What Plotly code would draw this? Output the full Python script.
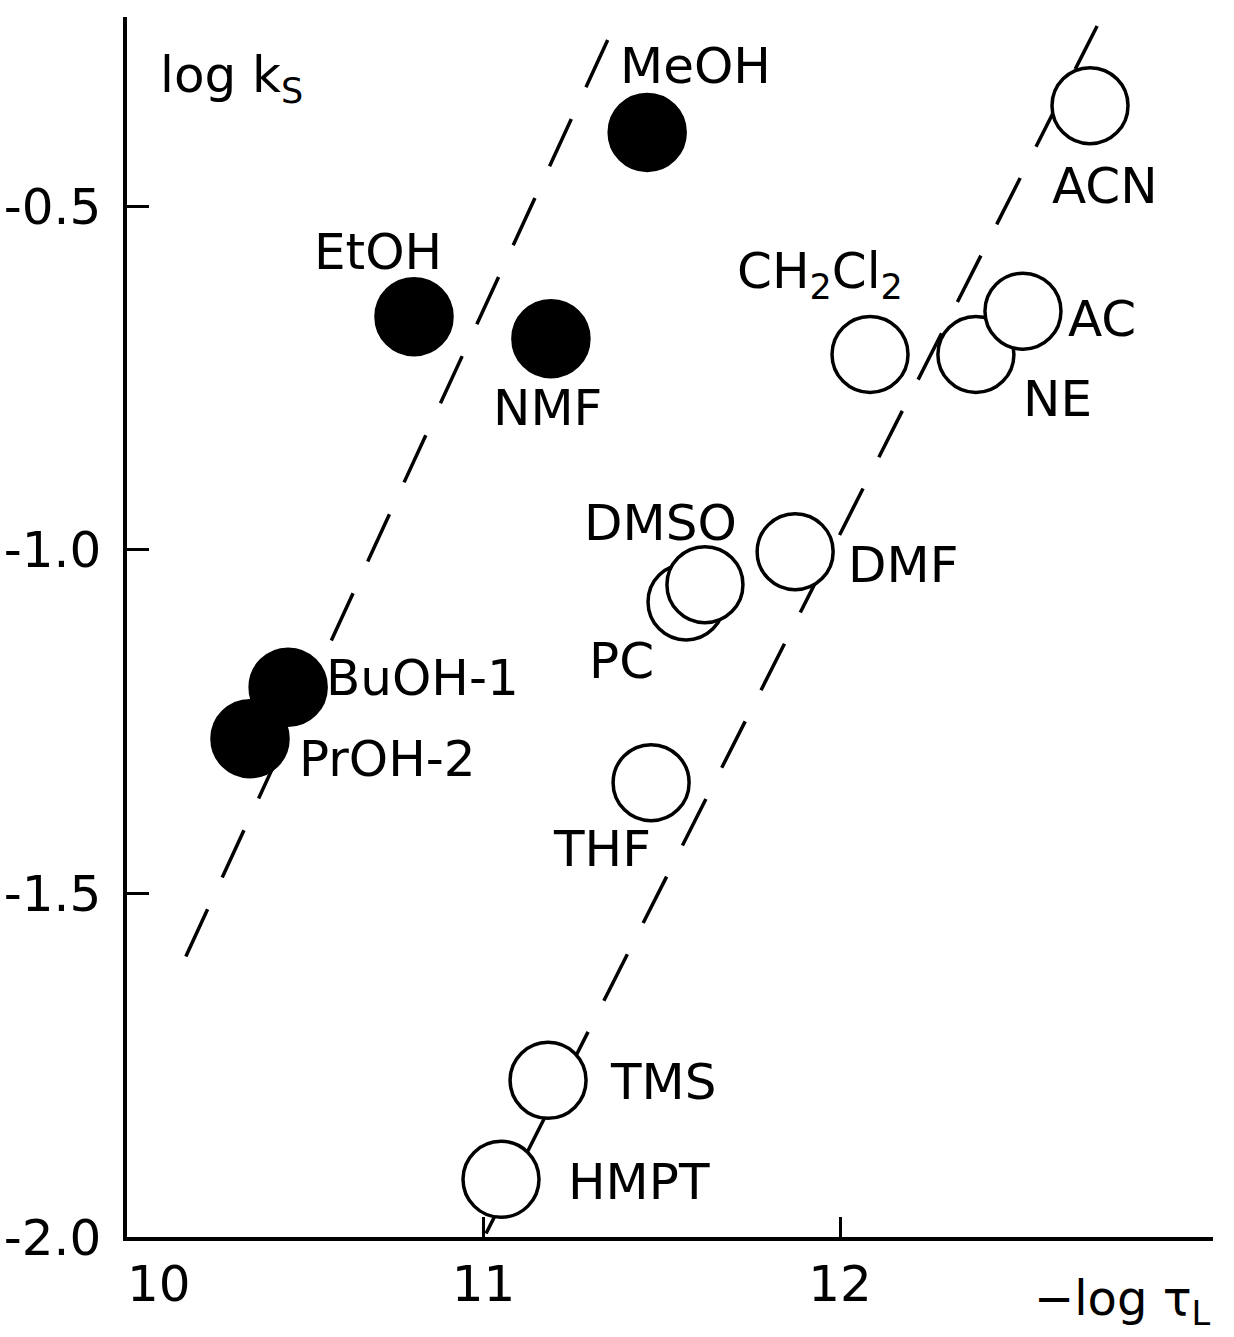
import plotly.graph_objects as go

# ---------------- data ----------------
# protic solvents (filled circles)
filled_names = ["MeOH", "EtOH", "NMF", "PrOH-2", "BuOH-1"]
filled_x = [11.459, 10.805, 11.189, 10.345, 10.452]
filled_y = [-0.393, -0.661, -0.693, -1.275, -1.200]

# aprotic solvents (open circles); drawing order keeps overlaps as in the original
open_names = ["ACN", "NE", "AC", "CH<sub>2</sub>Cl<sub>2</sub>", "DMF", "PC", "DMSO", "THF", "TMS", "HMPT"]
open_x = [12.701, 12.381, 12.513, 12.084, 11.874, 11.568, 11.621, 11.470, 11.181, 11.049]
open_y = [-0.354, -0.716, -0.653, -0.716, -1.003, -1.076, -1.051, -1.339, -1.772, -1.916]

# dashed correlation lines (end points)
line1_x = [10.165, 11.377]
line1_y = [-1.592, -0.226]
line2_x = [11.007, 12.721]
line2_y = [-1.995, -0.238]

# axis ticks
x_ticks = [10, 11, 12]
x_ticktext = ["\u2007\u200710", "11", "12"]
y_ticks = [-0.5, -1.0, -1.5, -2.0]
y_ticktext = ["-0.5", "-1.0", "-1.5", "-2.0"]

# ---------------- styling / layout ----------------
FONT = "DejaVu Sans"
label_offsets = {  # pixel offsets of the label centre from the circle centre (dx right, dy up)
    "MeOH": (48, 66), "EtOH": (-36, 65), "NMF": (-3, -69), "PrOH-2": (137, -20),
    "BuOH-1": (134, 9), "ACN": (15, -80), "NE": (82, -45), "AC": (79, -8),
    "CH<sub>2</sub>Cl<sub>2</sub>": (-50, 80), "DMF": (108, -13), "PC": (-65, -59),
    "DMSO": (-44, 62), "THF": (-49, -66), "TMS": (115, -2), "HMPT": (138, -3),
}

fig = go.Figure()
dash = "52px,35px"
for lx, ly in ((line1_x, line1_y), (line2_x, line2_y)):
    fig.add_trace(go.Scatter(x=lx, y=ly, mode="lines",
                             line=dict(color="black", width=3.5, dash=dash),
                             hoverinfo="skip", showlegend=False))

fig.add_trace(go.Scatter(x=filled_x, y=filled_y, mode="markers", text=filled_names,
                         marker=dict(symbol="circle", size=76, color="black",
                                     line=dict(color="black", width=3.5)),
                         showlegend=False, cliponaxis=False))
fig.add_trace(go.Scatter(x=open_x, y=open_y, mode="markers", text=open_names,
                         marker=dict(symbol="circle", size=76, color="white",
                                     line=dict(color="black", width=3.5)),
                         showlegend=False, cliponaxis=False))

annotations = []
for names, xs, ys in ((filled_names, filled_x, filled_y), (open_names, open_x, open_y)):
    for n, xv, yv in zip(names, xs, ys):
        dx, dy = label_offsets[n]
        annotations.append(dict(x=xv, y=yv, xref="x", yref="y", text=n, showarrow=False,
                                xshift=dx, yshift=dy, xanchor="center", yanchor="middle",
                                font=dict(family=FONT, size=50, color="black")))

# axis titles
annotations.append(dict(x=0.029, y=0.978, xref="paper", yref="paper",
                        text="log k<sub>S</sub>", showarrow=False, xanchor="left", yanchor="top",
                        font=dict(family=FONT, size=50, color="black")))
annotations.append(dict(x=1.0, y=-0.08, xref="paper", yref="paper",
                        text="\u2212log \u03c4<sub>L</sub>", showarrow=False, xanchor="right", yanchor="bottom",
                        font=dict(family=FONT, size=48, color="black")))

fig.update_layout(
    width=1234, height=1337,
    margin=dict(l=127, r=21, t=17, b=100),
    paper_bgcolor="white", plot_bgcolor="white",
    annotations=annotations,
    showlegend=False,
    xaxis=dict(range=[10, 13.046], tickvals=x_ticks, ticktext=x_ticktext, automargin=False,
               ticks="inside", ticklen=20, tickwidth=3, tickcolor="black",
               showline=True, linewidth=3.5, linecolor="black", showgrid=False, zeroline=False,
               tickfont=dict(family=FONT, size=50, color="black"), ticklabelstandoff=0),
    yaxis=dict(range=[-2.0, -0.225], tickvals=y_ticks, ticktext=y_ticktext, automargin=False,
               ticks="inside", ticklen=22, tickwidth=3, tickcolor="black",
               showline=True, linewidth=3.5, linecolor="black", showgrid=False, zeroline=False,
               tickfont=dict(family=FONT, size=50, color="black"), ticklabelstandoff=12),
)

fig.write_html("out.html")
